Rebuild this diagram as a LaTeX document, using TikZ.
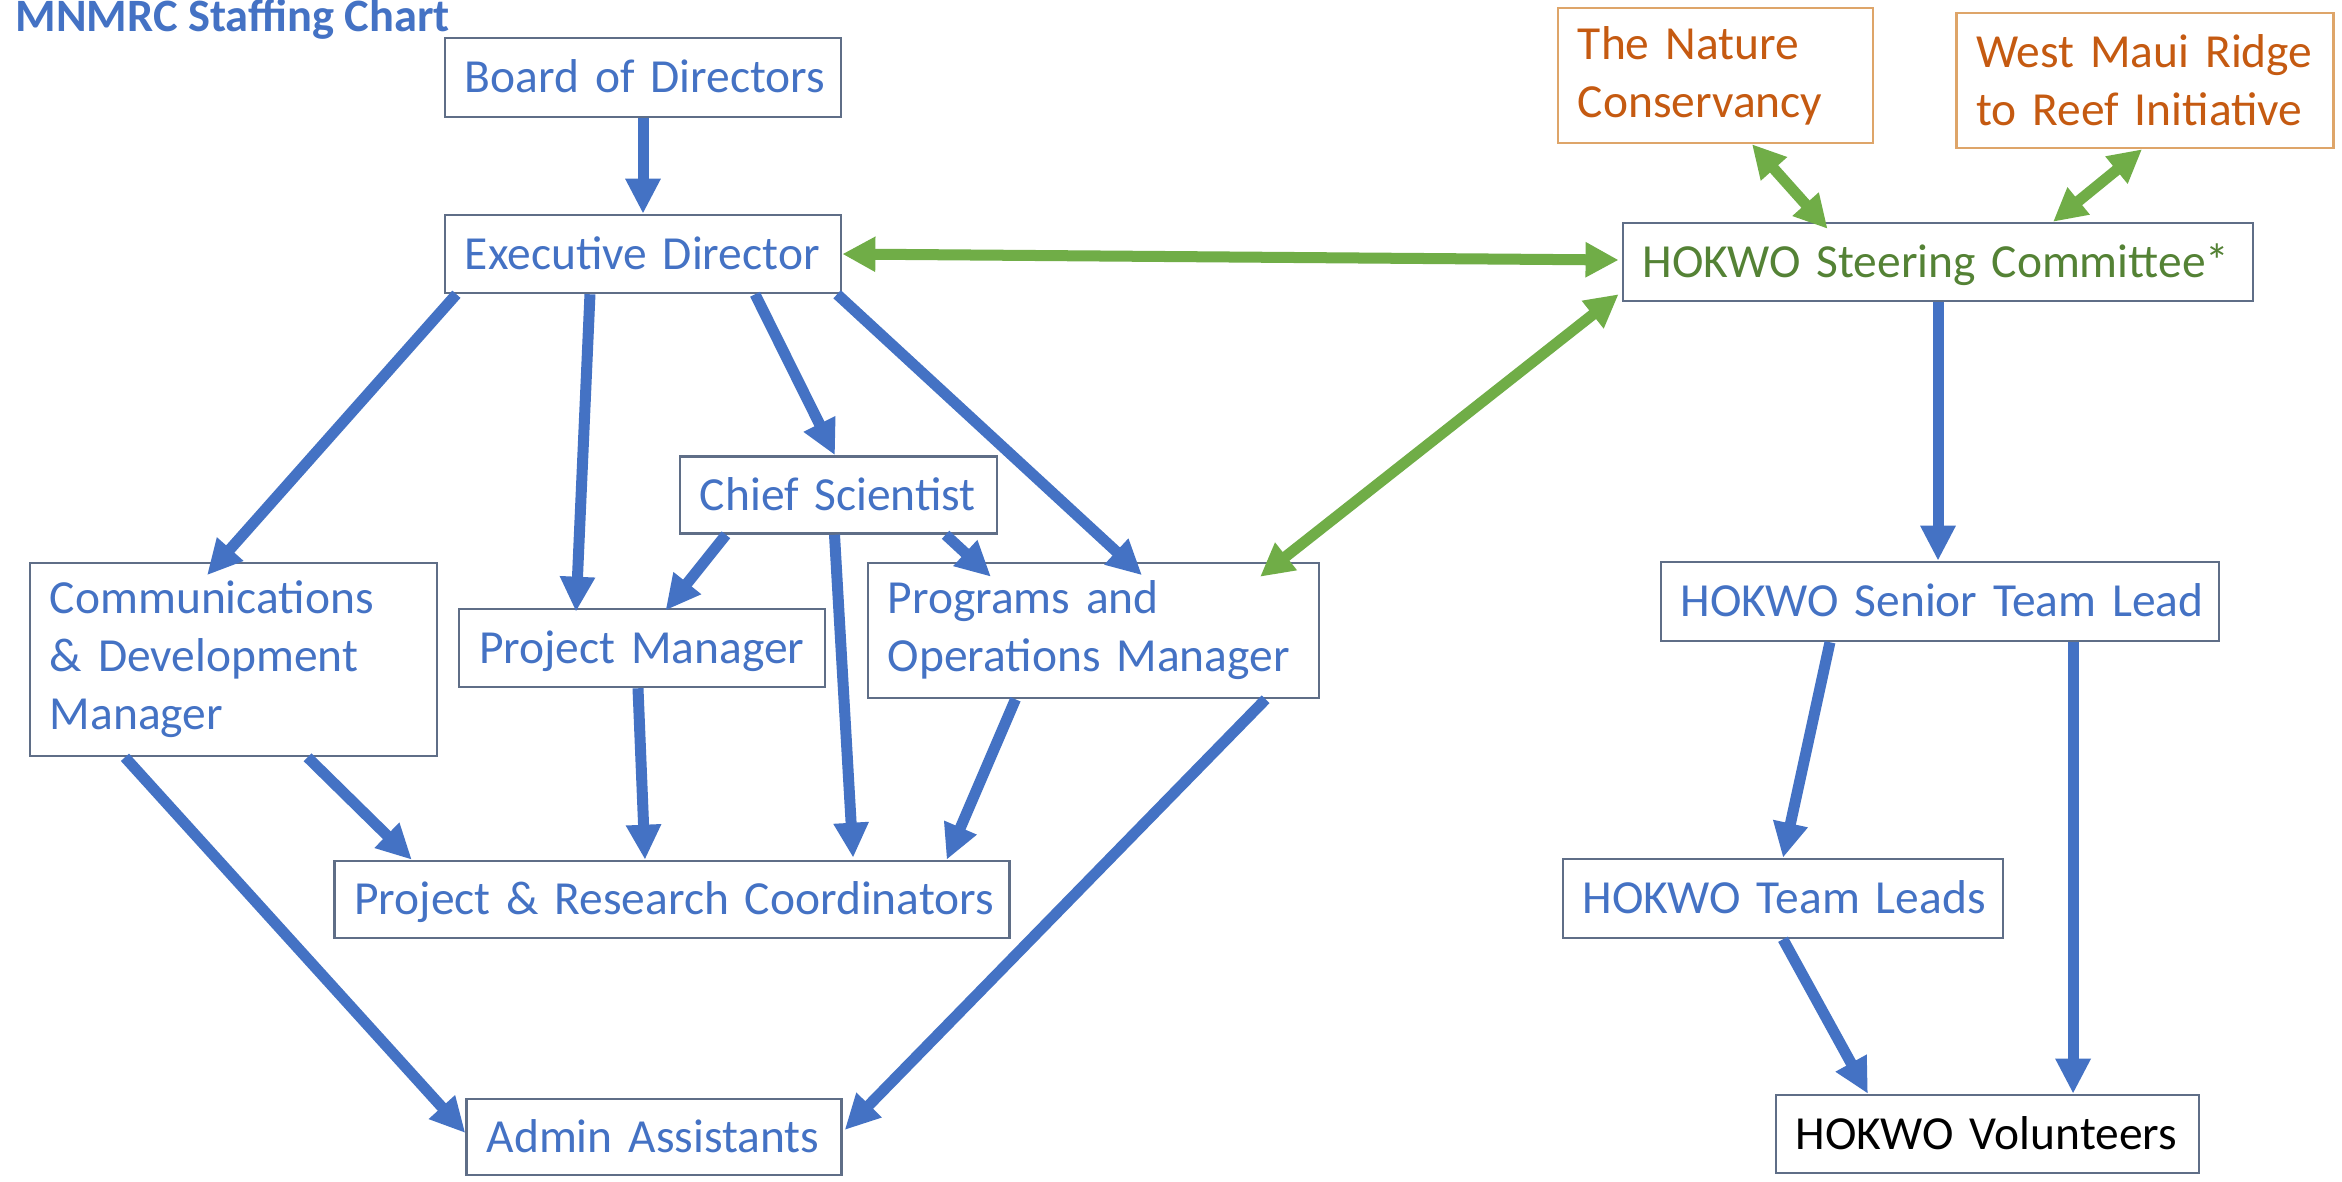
\documentclass[tikz,border=0pt]{standalone}
\usepackage{fontspec}
\setmainfont{Carlito}
\usetikzlibrary{arrows.meta}
\definecolor{tblue}{RGB}{68,114,196}
\definecolor{ablue}{RGB}{68,114,196}
\definecolor{agreen}{RGB}{112,173,71}
\definecolor{tgreen}{RGB}{84,130,53}
\definecolor{torange}{RGB}{197,90,17}
\definecolor{borange}{RGB}{222,165,105}
\definecolor{bgray}{RGB}{95,110,135}
\tikzset{
  box/.style={draw=bgray, line width=0.7pt, rectangle, align=left,
    inner xsep=0.2cm, inner ysep=0pt,
    font=\fontsize{13.5pt}{16.5pt}\selectfont, text=tblue},
  oneline/.style={text height=0.425cm, text depth=0.119cm},
  barrow/.style={draw=ablue, line width=0.11cm,
    -{Triangle[width=0.33cm,length=0.35cm]}},
  garrow/.style={draw=agreen, line width=0.11cm,
    {Triangle[width=0.33cm,length=0.33cm]}-{Triangle[width=0.33cm,length=0.33cm]}}
}
\begin{document}
\begin{tikzpicture}[x=0.01cm,y=-0.01cm]
\useasboundingbox[fill=white] (0,0) rectangle (2342,1181);

\node[anchor=base west, inner sep=0pt, text=tblue,
  font=\fontsize{13.2pt}{16.5pt}\selectfont\bfseries] (title) at (15,31) {MNMRC Staffing Chart};

\node[box, oneline, text width=3.56cm, minimum height=0.79cm] (board) at (643,77.5) {\mbox{Board of Directors}};
\node[box, oneline, text width=3.56cm, minimum height=0.78cm] (exec) at (643,254) {\mbox{Executive Director}};
\node[box, draw=borange, text=torange, text width=2.75cm, minimum height=1.35cm] (nature) at (1715.5,75.5) {\mbox{The Nature}\\\mbox{Conservancy}};
\node[box, draw=borange, text=torange, text width=3.37cm, minimum height=1.35cm] (west) at (2145,80.5) {\mbox{West Maui Ridge}\\\mbox{to Reef Initiative}};
\node[box, oneline, text=tgreen, text width=5.90cm, minimum height=0.78cm] (steer) at (1938,262) {\mbox{HOKWO Steering Committee*}};
\node[box, oneline, text width=2.77cm, minimum height=0.77cm] (chief) at (838.5,495) {\mbox{Chief Scientist}};
\node[box, text width=3.67cm, minimum height=1.93cm] (comms) at (233.5,659.5) {\mbox{Communications}\\\mbox{\& Development}\\\mbox{Manager}};
\node[box, oneline, text width=3.255cm, minimum height=0.78cm] (pm) at (642,648) {\mbox{Project Manager}};
\node[box, text width=4.11cm, minimum height=1.35cm] (prog) at (1093.5,630.5) {\mbox{Programs and}\\\mbox{Operations Manager}};
\node[box, oneline, text width=6.35cm, minimum height=0.77cm] (coord) at (672,899.5) {\mbox{Project \& Research Coordinators}};
\node[box, oneline, text width=3.346cm, minimum height=0.76cm] (admin) at (654,1137) {\mbox{Admin Assistants}};
\node[box, oneline, text width=5.18cm, minimum height=0.79cm] (senior) at (1940,601.5) {\mbox{HOKWO Senior Team Lead}};
\node[box, oneline, text width=4.00cm, minimum height=0.79cm] (teamleads) at (1783,898.5) {\mbox{HOKWO Team Leads}};
\node[box, oneline, text=black, text width=3.83cm, minimum height=0.78cm] (vol) at (1987.5,1134) {\mbox{HOKWO Volunteers}};

% blue reporting arrows
\draw[barrow] (board.south) -- (exec.north);
\draw[barrow] ([xshift=-1.865cm]exec.south) -- ([xshift=-0.265cm,yshift=-0.135cm]comms.north);
\draw[barrow] ([xshift=-0.53cm]exec.south) -- ([xshift=-0.66cm,yshift=-0.04cm]pm.north);
\draw[barrow] ([xshift=1.12cm]exec.south) -- ([xshift=-0.035cm]chief.north);
\draw[barrow] ([xshift=1.94cm]exec.south) -- ([xshift=0.485cm,yshift=-0.135cm]prog.north);
\draw[barrow] ([xshift=-1.125cm]chief.south) -- ([xshift=0.235cm,yshift=-0.027cm]pm.north);
\draw[barrow] ([xshift=1.07cm]chief.south) -- ([xshift=-1.025cm,yshift=-0.15cm]prog.north);
\draw[barrow] ([xshift=-0.04cm]chief.south) -- ([xshift=1.81cm,yshift=0.02cm]coord.north);
\draw[barrow] ([xshift=-0.04cm]pm.south) -- ([xshift=-0.27cm]coord.north);
\draw[barrow] ([xshift=-0.78cm]prog.south) -- ([xshift=2.745cm]coord.north);
\draw[barrow] ([xshift=0.74cm]comms.south) -- ([xshift=-2.60cm]coord.north);
\draw[barrow] ([xshift=-1.085cm]comms.south) -- ([yshift=0.04cm]admin.west);
\draw[barrow] ([xshift=1.72cm]prog.south) -- ([xshift=0.02cm,yshift=0.07cm]admin.east);
\draw[barrow] (steer.south) -- (steer.south |- senior.north);
\draw[barrow] ([xshift=-1.10cm]senior.south) -- (teamleads.north);
\draw[barrow] ([xshift=1.33cm]senior.south) -- ([xshift=1.33cm]senior.south |- vol.north);
\draw[barrow] (teamleads.south) -- ([xshift=-1.195cm]vol.north);

% green collaboration arrows
\draw[garrow] (exec.east) -- ([xshift=-0.03cm,yshift=0.02cm]steer.west);
\draw[garrow] ([xshift=1.665cm,yshift=-0.15cm]prog.north) -- ([xshift=-0.03cm,yshift=0.08cm]steer.south west);
\draw[garrow] ([xshift=0.365cm]nature.south) -- ([xshift=-1.104cm,yshift=-0.07cm]steer.north);
\draw[garrow] ([xshift=-0.03cm]west.south) -- ([xshift=1.15cm]steer.north);
\end{tikzpicture}
\end{document}
